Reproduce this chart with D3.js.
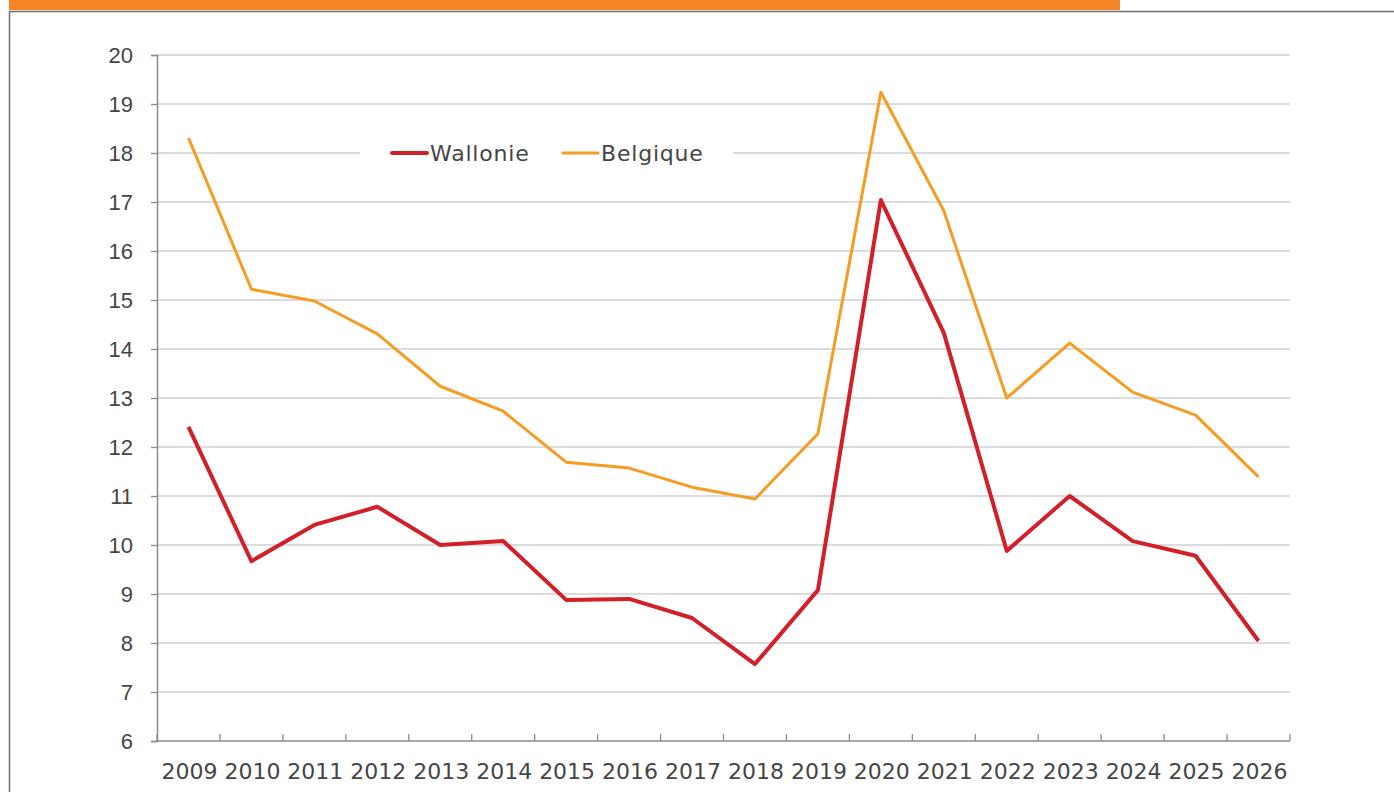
<!DOCTYPE html>
<html>
<head>
<meta charset="utf-8">
<script src="https://cdn.jsdelivr.net/npm/d3@7"></script>
<style>
  body { margin: 0; background: #fff; }
  svg { display: block; font-family: "DejaVu Sans", sans-serif; }
</style>
</head>
<body>
<div id="chart"></div>
<script>
// data
const years = ["2009", "2010", "2011", "2012", "2013", "2014", "2015", "2016", "2017",
  "2018", "2019", "2020", "2021", "2022", "2023", "2024", "2025", "2026"];
const wallonie = [12.41, 9.67, 10.41, 10.78, 10.0, 10.08, 8.88, 8.9, 8.51,
  7.57, 9.08, 17.04, 14.33, 9.88, 11.0, 10.08, 9.78, 8.04];
const belgique = [18.31, 15.22, 14.98, 14.31, 13.24, 12.73, 11.69, 11.57, 11.18,
  10.94, 12.27, 19.24, 16.82, 13.0, 14.12, 13.12, 12.65, 11.39];
const yTicks = [6, 7, 8, 9, 10, 11, 12, 13, 14, 15, 16, 17, 18, 19, 20];

const series = [
  { name: "Wallonie", values: wallonie, color: "#d2202a", width: 4 },
  { name: "Belgique", values: belgique, color: "#f59c22", width: 3 }
];

const width = 1394, height = 792;
const margin = { top: 55, right: 104, bottom: 51, left: 157 };
const textColor = "#454545";

const svg = d3.select("#chart").append("svg")
  .attr("width", width)
  .attr("height", height);

// frame: orange bar on top, grey border
svg.append("rect")
  .attr("x", 9).attr("y", 0)
  .attr("width", 1111).attr("height", 10)
  .attr("fill", "#f58426");

svg.append("path")
  .attr("d", `M9.5,${height} V11.5 H${width}`)
  .attr("fill", "none")
  .attr("stroke", "#6f6f6f")
  .attr("stroke-width", 1.5);

const x = d3.scaleBand()
  .domain(years)
  .range([margin.left, width - margin.right]);

const y = d3.scaleLinear()
  .domain([6, 20])
  .range([height - margin.bottom, margin.top]);

// gridlines
svg.append("g")
  .selectAll("line")
  .data(yTicks.filter(d => d > 6))
  .join("line")
    .attr("x1", margin.left)
    .attr("x2", width - margin.right)
    .attr("y1", d => y(d))
    .attr("y2", d => y(d))
    .attr("stroke", "#d0d0d0")
    .attr("stroke-width", 1.3);

// y axis
const yAxis = svg.append("g")
  .attr("transform", `translate(${margin.left},0)`)
  .call(d3.axisLeft(y).tickValues(yTicks).tickSize(6).tickPadding(18).tickFormat(d3.format("d")));
yAxis.select(".domain").attr("stroke", "#8c8c8c").attr("stroke-width", 1.5);
yAxis.selectAll(".tick line").attr("stroke", "#8c8c8c").attr("stroke-width", 1.3);
yAxis.selectAll("text")
  .attr("font-size", 22)
  .attr("fill", textColor);

// x axis, ticks at category boundaries pointing inward
const xAxis = svg.append("g")
  .attr("transform", `translate(0,${height - margin.bottom})`);
xAxis.append("line")
  .attr("x1", margin.left).attr("x2", width - margin.right)
  .attr("stroke", "#8c8c8c").attr("stroke-width", 1.5);
xAxis.selectAll(".xtick")
  .data(years.map(d => x(d) + x.bandwidth()).concat([margin.left]))
  .join("line")
    .attr("class", "xtick")
    .attr("x1", d => d).attr("x2", d => d)
    .attr("y1", 0).attr("y2", -7)
    .attr("stroke", "#8c8c8c").attr("stroke-width", 1.3);
xAxis.selectAll(".xlabel")
  .data(years)
  .join("text")
    .attr("class", "xlabel")
    .attr("x", d => x(d) + x.bandwidth() / 2 + 1)
    .attr("y", 38)
    .attr("text-anchor", "middle")
    .attr("font-size", 22)
    .attr("fill", textColor)
    .text(d => d);

// lines
const line = d3.line()
  .x((d, i) => x(years[i]) + x.bandwidth() / 2)
  .y(d => y(d));

svg.append("g")
  .selectAll("path")
  .data(series)
  .join("path")
    .attr("d", d => line(d.values))
    .attr("fill", "none")
    .attr("stroke", d => d.color)
    .attr("stroke-width", d => d.width)
    .attr("stroke-linejoin", "round");

// legend with white box over the grid
const legend = svg.append("g")
  .attr("transform", `translate(360,${y(18)})`);
legend.append("rect")
  .attr("x", 0).attr("y", -18)
  .attr("width", 373).attr("height", 36)
  .attr("fill", "#fff");

const legendX = [32, 203];
const item = legend.selectAll(".item")
  .data(series)
  .join("g")
    .attr("class", "item")
    .attr("transform", (d, i) => `translate(${legendX[i]},0)`);
item.append("line")
  .attr("x1", 0).attr("x2", 35)
  .attr("stroke", d => d.color)
  .attr("stroke-width", d => d.width)
  .attr("stroke-linecap", "round");
item.append("text")
  .attr("x", 38)
  .attr("dy", "0.35em")
  .attr("font-size", 22)
  .attr("letter-spacing", 0.8)
  .attr("fill", textColor)
  .text(d => d.name);
</script>
</body>
</html>
